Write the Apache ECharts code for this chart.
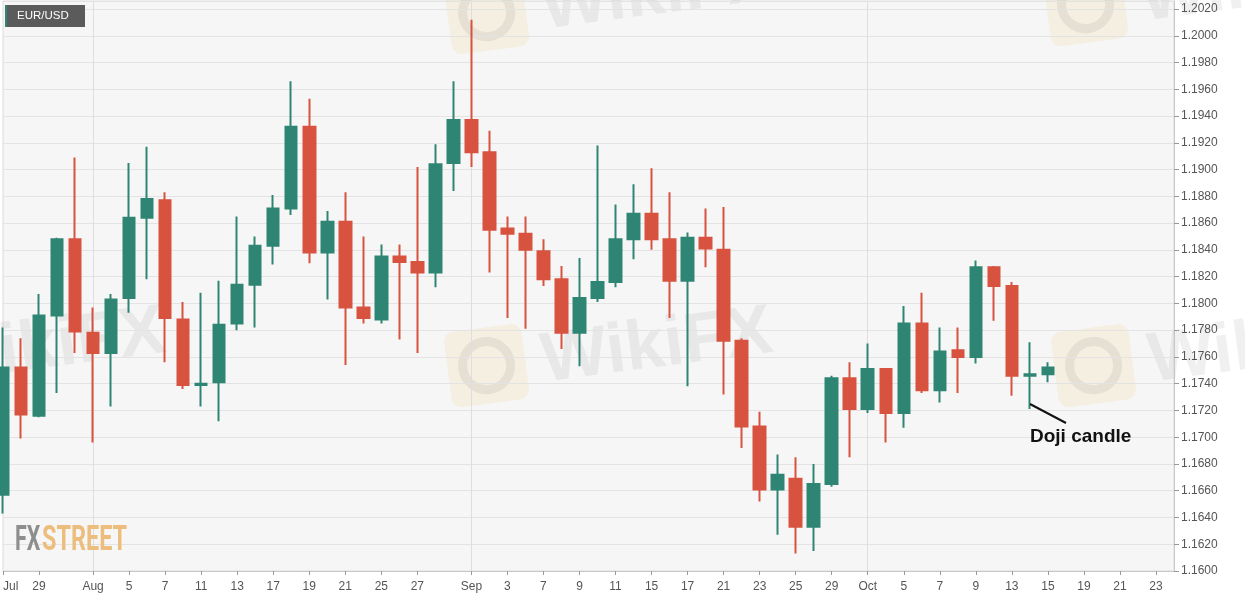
<!DOCTYPE html>
<html>
<head>
<meta charset="utf-8">
<script src="https://cdn.jsdelivr.net/npm/echarts@6/dist/echarts.min.js"></script>
<style>
  html, body { margin: 0; padding: 0; background: #fff; }
  #main { width: 1245px; height: 599px; }
</style>
</head>
<body>
<div id="main"></div>
<script>
// trading days shown on the axis (Jul 27 .. Oct 26, 2020)
const days = [
  '2020-07-27','2020-07-28','2020-07-29','2020-07-30','2020-07-31',
  '2020-08-03','2020-08-04','2020-08-05','2020-08-06','2020-08-07',
  '2020-08-10','2020-08-11','2020-08-12','2020-08-13','2020-08-14',
  '2020-08-17','2020-08-18','2020-08-19','2020-08-20','2020-08-21',
  '2020-08-24','2020-08-25','2020-08-26','2020-08-27','2020-08-28','2020-08-31',
  '2020-09-01','2020-09-02','2020-09-03','2020-09-04',
  '2020-09-07','2020-09-08','2020-09-09','2020-09-10','2020-09-11',
  '2020-09-14','2020-09-15','2020-09-16','2020-09-17','2020-09-18',
  '2020-09-21','2020-09-22','2020-09-23','2020-09-24','2020-09-25',
  '2020-09-28','2020-09-29','2020-09-30',
  '2020-10-01','2020-10-02',
  '2020-10-05','2020-10-06','2020-10-07','2020-10-08','2020-10-09',
  '2020-10-12','2020-10-13','2020-10-14','2020-10-15','2020-10-16',
  '2020-10-19','2020-10-20','2020-10-21','2020-10-22','2020-10-23',
  '2020-10-26'
]

// days that carry a label on the x axis
const tickDays = [
  '2020-07-27','2020-07-29','2020-08-03','2020-08-05','2020-08-07','2020-08-11',
  '2020-08-13','2020-08-17','2020-08-19','2020-08-21','2020-08-25','2020-08-27',
  '2020-09-01','2020-09-03','2020-09-07','2020-09-09','2020-09-11','2020-09-15',
  '2020-09-17','2020-09-21','2020-09-23','2020-09-25','2020-09-29','2020-10-01',
  '2020-10-05','2020-10-07','2020-10-09','2020-10-13','2020-10-15','2020-10-19',
  '2020-10-21','2020-10-23'
]
const monthNames = ['Jan','Feb','Mar','Apr','May','Jun','Jul','Aug','Sep','Oct','Nov','Dec']

// EUR/USD daily prices
const open = [
  1.1657, 1.1752, 1.1716, 1.1791, 1.1848, 1.1778, 1.1763, 1.1804, 1.1864, 1.1877,
  1.1788, 1.1739, 1.1741, 1.1785, 1.1814, 1.1843, 1.1871, 1.1932, 1.1838, 1.1861,
  1.1797, 1.1788, 1.1835, 1.1831, 1.1823, 1.1905, 1.1937, 1.1913, 1.1856, 1.1852,
  1.1839, 1.1818, 1.1778, 1.1804, 1.1816, 1.1848, 1.1867, 1.1848, 1.1817, 1.1849,
  1.1840, 1.1772, 1.1708, 1.1661, 1.1669, 1.1633, 1.1665, 1.1744, 1.1721, 1.1751,
  1.1718, 1.1785, 1.1735, 1.1765, 1.1760, 1.1827, 1.1813, 1.1746, 1.1747
]
const high = [
  1.1782, 1.1774, 1.1807, 1.1849, 1.1909, 1.1797, 1.1807, 1.1905, 1.1917, 1.1883,
  1.1801, 1.1808, 1.1817, 1.1865, 1.1850, 1.1881, 1.1966, 1.1953, 1.1869, 1.1883,
  1.1850, 1.1844, 1.1844, 1.1902, 1.1919, 1.1966, 1.2012, 1.1929, 1.1865, 1.1865,
  1.1848, 1.1828, 1.1834, 1.1918, 1.1874, 1.1889, 1.1901, 1.1883, 1.1853, 1.1871,
  1.1872, 1.1774, 1.1719, 1.1687, 1.1685, 1.1680, 1.1746, 1.1756, 1.1770, 1.1751,
  1.1798, 1.1808, 1.1782, 1.1782, 1.1832, 1.1828, 1.1816, 1.1771, 1.1756
]
const low = [
  1.1643, 1.1699, 1.1715, 1.1733, 1.1763, 1.1696, 1.1723, 1.1793, 1.1818, 1.1756,
  1.1736, 1.1723, 1.1712, 1.1780, 1.1782, 1.1829, 1.1866, 1.1830, 1.1803, 1.1754,
  1.1785, 1.1785, 1.1773, 1.1763, 1.1812, 1.1884, 1.1902, 1.1823, 1.1789, 1.1781,
  1.1813, 1.1766, 1.1753, 1.1801, 1.1812, 1.1833, 1.1840, 1.1789, 1.1738, 1.1827,
  1.1732, 1.1692, 1.1652, 1.1627, 1.1613, 1.1615, 1.1663, 1.1685, 1.1718, 1.1696,
  1.1707, 1.1733, 1.1726, 1.1733, 1.1755, 1.1787, 1.1731, 1.1721, 1.1741
]
const close = [
  1.1752, 1.1717, 1.1791, 1.1848, 1.1779, 1.1763, 1.1803, 1.1864, 1.1878, 1.1789,
  1.1739, 1.1740, 1.1784, 1.1814, 1.1843, 1.1871, 1.1932, 1.1838, 1.1861, 1.1797,
  1.1789, 1.1835, 1.1831, 1.1823, 1.1904, 1.1937, 1.1913, 1.1855, 1.1852, 1.1840,
  1.1818, 1.1778, 1.1804, 1.1816, 1.1848, 1.1867, 1.1848, 1.1817, 1.1849, 1.1841,
  1.1772, 1.1708, 1.1661, 1.1672, 1.1633, 1.1665, 1.1744, 1.1721, 1.1751, 1.1718,
  1.1785, 1.1735, 1.1764, 1.1760, 1.1827, 1.1813, 1.1746, 1.1747, 1.1752
]

const UP = '#2e8573'
const DOWN = '#d8533f'

// echarts candlestick wants [open, close, low, high]
const candles = days.map((d, i) =>
  i < open.length ? [open[i], close[i], low[i], high[i]] : '-'
)

function isMonthStart(i) {
  return i > 0 && days[i].slice(5, 7) !== days[i - 1].slice(5, 7)
}

function dayLabel(value, index) {
  const m = +value.slice(5, 7)
  if (index === 0 || isMonthStart(index)) return monthNames[m - 1]
  return String(+value.slice(8, 10))
}

// faint site watermarks
function watermark(x, y) {
  return {
    type: 'group',
    x: x, y: y,
    rotation: 0.13,
    z: 1,
    silent: true,
    children: [
      { type: 'rect', shape: { x: 0, y: 0, width: 78, height: 76, r: 10 },
        style: { fill: 'rgba(240, 200, 110, 0.15)' } },
      { type: 'circle', shape: { cx: 39, cy: 38, r: 24 },
        style: { fill: 'none', stroke: 'rgba(120,120,120,0.13)', lineWidth: 9 } },
      { type: 'text', x: 94, y: 42,
        style: { text: 'WikiFX', fontSize: 70, fontWeight: 'bold', fontFamily: 'Liberation Sans',
                 fill: 'rgba(120,120,120,0.11)', verticalAlign: 'middle' } }
    ]
  }
}

const chart = echarts.init(document.getElementById('main'))

chart.setOption({
  animation: false,
  backgroundColor: '#fff',
  textStyle: { fontFamily: 'Liberation Sans' },
  grid: {
    left: 0, right: 71, top: 1, bottom: 28,
    show: true,
    backgroundColor: '#f6f6f6',
    borderColor: '#dcdcdc',
    borderWidth: 1
  },
  xAxis: {
    type: 'category',
    data: days,
    boundaryGap: false,
    axisLine: { lineStyle: { color: '#c8c8c8' } },
    axisTick: {
      length: 4,
      lineStyle: { color: '#999' },
      interval: (i, v) => tickDays.includes(v)
    },
    axisLabel: {
      color: '#555',
      fontSize: 12,
      margin: 10,
      alignMinLabel: 'left',
      interval: (i, v) => tickDays.includes(v),
      formatter: dayLabel
    },
    splitLine: {
      show: true,
      interval: (i) => isMonthStart(i),
      lineStyle: { color: '#dedede' }
    }
  },
  yAxis: {
    type: 'value',
    position: 'right',
    scale: true,
    min: 1.16,
    max: 1.2026,
    interval: 0.002,
    axisLine: { show: true, lineStyle: { color: '#c8c8c8' } },
    axisTick: { show: true, length: 5, lineStyle: { color: '#999' } },
    axisLabel: {
      color: '#555',
      fontSize: 12,
      margin: 7,
      showMaxLabel: false,
      formatter: v => v.toFixed(4)
    },
    splitLine: { lineStyle: { color: '#e3e3e3' } }
  },
  series: [{
    type: 'candlestick',
    data: candles,
    barWidth: 12,
    z: 3,
    itemStyle: {
      color: UP,
      color0: DOWN,
      borderColor: UP,
      borderColor0: DOWN,
      borderWidth: 2
    }
  }],
  graphic: [
    watermark(-164, 333),
    watermark(443, 333),
    watermark(1050, 333),
    watermark(443, -20),
    watermark(1042, -28),
    // pair label
    { type: 'rect', z: 10, shape: { x: 5, y: 5, width: 80, height: 22 }, style: { fill: '#5b5b5b' } },
    { type: 'rect', z: 11, shape: { x: 5, y: 5, width: 2, height: 22 }, style: { fill: UP } },
    { type: 'text', z: 11, x: 17, y: 16,
      style: { text: 'EUR/USD', fill: '#fff', fontSize: 11.5, fontFamily: 'Liberation Sans', verticalAlign: 'middle' } },
    // logo
    { type: 'text', z: 10, x: 15, y: 541, scaleX: 0.61,
      style: { text: 'FX', fontSize: 35, fontFamily: 'Roboto', fontWeight: 'bold', fill: '#8e8e8e', verticalAlign: 'middle' } },
    { type: 'text', z: 10, x: 42, y: 541, scaleX: 0.67,
      style: { text: 'STREET', fontSize: 35, fontFamily: 'Roboto', fontWeight: 'bold', fill: '#ecbd7c', verticalAlign: 'middle' } },
    // doji annotation
    { type: 'line', z: 10, shape: { x1: 1030, y1: 404, x2: 1066, y2: 423 },
      style: { stroke: '#111', lineWidth: 2 } },
    { type: 'text', z: 10, x: 1030, y: 437,
      style: { text: 'Doji candle', fill: '#111', fontSize: 19, fontWeight: 'bold',
               fontFamily: 'Liberation Sans', verticalAlign: 'middle' } }
  ]
})
</script>
</body>
</html>
